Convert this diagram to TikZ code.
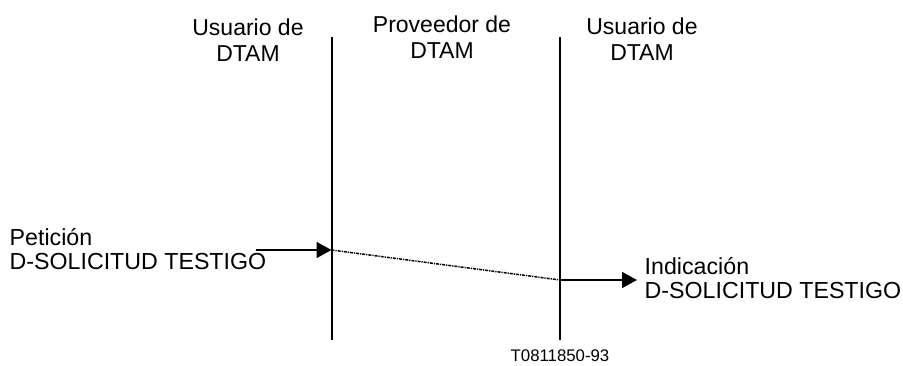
\documentclass[tikz,border=0pt]{standalone}
\usepackage{fontspec}
\setmainfont{Liberation Sans}
\usetikzlibrary{arrows.meta}
\begin{document}
\begin{tikzpicture}[x=1pt,y=-1pt,
  lbl/.style={inner sep=0pt,font=\fontsize{23}{26}\selectfont,align=center},
  msg/.style={inner sep=0pt,font=\fontsize{23.2}{24}\selectfont,align=left,anchor=west},
  life/.style={line width=2pt},
  sig/.style={line width=1.7pt,-{Triangle[length=15pt,width=16pt]}},
  dot/.style={line width=1.5pt,dash pattern=on 3pt off 1pt on 1.2pt off 1pt}]
\useasboundingbox (0,0) rectangle (903,365);
% lifelines
\coordinate (Lt) at (331.5,37);
\coordinate (Lb) at (331.5,340);
\coordinate (Rt) at (560,37);
\coordinate (Rb) at (560,340);
\draw[life] (Lt) -- (Lb);
\draw[life] (Rt) -- (Rb);
% headers
\node[lbl] (u1) at (248,40.5) {Usuario de\\DTAM};
\node[lbl] (p) at (442,37) {Proveedor de\\DTAM};
\node[lbl] (u2) at (642,39.5) {Usuario de\\DTAM};
% messages
\coordinate (a0) at (256,250);
\coordinate (a1) at (331.5,250);
\coordinate (b0) at (560,280);
\coordinate (b1) at (637,280);
\draw[sig] (a0) -- (a1);
\draw[dot] (a1) -- (b0);
\draw[sig] (b0) -- (b1);
\node[msg] (req) at (9.5,249) {Petición\\D-SOLICITUD TESTIGO};
\node[msg] (ind) at (644.5,278) {Indicación\\D-SOLICITUD TESTIGO};
\node[inner sep=0pt,font=\fontsize{16.8}{18}\selectfont] (id) at (560,356) {T0811850-93};
\end{tikzpicture}
\end{document}
